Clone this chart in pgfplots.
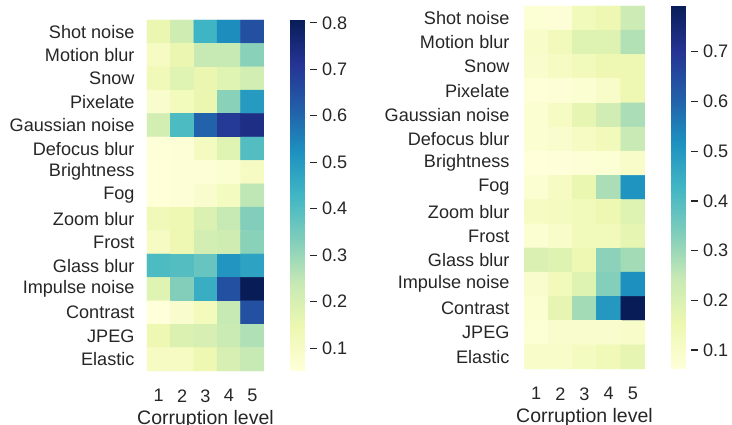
\documentclass[border=0pt]{standalone}
\usepackage{pgfplots}
\pgfplotsset{compat=1.18}
\usepackage{fontspec}
\setmainfont{Liberation Sans}
\definecolor{txt}{HTML}{262626}
\pgfplotsset{
  colormap={YlGnBu}{rgb255=(255,255,217) rgb255=(237,248,177) rgb255=(199,233,180) rgb255=(127,205,187) rgb255=(65,182,196) rgb255=(29,145,192) rgb255=(34,94,168) rgb255=(37,52,148) rgb255=(8,29,88)},
  heat/.style={
    scale only axis,
    enlargelimits=false,
    xmin=0.5, xmax=5.5, ymin=0.5, ymax=15.5,
    y dir=reverse,
    axis line style={draw=none},
    major tick length=0pt,
    xtick={1,2,3,4,5},
    ytick={1,...,15},
    yticklabels={Shot noise,Motion blur,Snow,Pixelate,Gaussian noise,Defocus blur,Brightness,Fog,Zoom blur,Frost,Glass blur,Impulse noise,Contrast,JPEG,Elastic},
    /pgf/number format/assume math mode=true,
    tick label style={font=\fontsize{18.1}{21}\selectfont, text=txt},
    xticklabel style={yshift=-15pt},
    xlabel={Corruption level},
    xlabel style={font=\fontsize{19.5}{23}\selectfont, text=txt, at={(axis description cs:0.5,0)}, anchor=base, yshift=-53pt},
    colormap name=YlGnBu,
    colorbar,
  },
  cbar/.style={
    colorbar style={
      at={(parent axis.north east)}, anchor=north west, xshift=#1,
      scale only axis, width=19pt,
      axis line style={draw=none},
      ytick pos=right, yticklabel pos=right,
      tick align=outside,
      major tick length=7pt,
      tick style={color=txt, line width=1.2pt},
      /pgf/number format/assume math mode=true,
      yticklabel style={font=\fontsize{18.1}{21}\selectfont, text=txt, xshift=2pt, /pgf/number format/.cd, fixed, fixed zerofill, precision=1},
    }
  }
}
\pgfplotstableread{
x y c
1 1 0.15
2 1 0.22
3 1 0.435
4 1 0.53
5 1 0.65
1 2 0.10
2 2 0.15
3 2 0.24
4 2 0.24
5 2 0.32
1 3 0.13
2 3 0.18
3 3 0.15
4 3 0.18
5 3 0.21
1 4 0.08
2 4 0.12
3 4 0.15
4 4 0.32
5 4 0.50
1 5 0.21
2 5 0.41
3 5 0.61
4 5 0.70
5 5 0.736
1 6 0.055
2 6 0.06
3 6 0.11
4 6 0.18
5 6 0.40
1 7 0.053
2 7 0.058
3 7 0.06
4 7 0.07
5 7 0.10
1 8 0.053
2 8 0.06
3 8 0.08
4 8 0.11
5 8 0.25
1 9 0.13
2 9 0.14
3 9 0.19
4 9 0.24
5 9 0.33
1 10 0.10
2 10 0.14
3 10 0.21
4 10 0.22
5 10 0.32
1 11 0.41
2 11 0.40
3 11 0.37
4 11 0.51
5 11 0.48
1 12 0.18
2 12 0.33
3 12 0.45
4 12 0.65
5 12 0.806
1 13 0.051
2 13 0.08
3 13 0.12
4 13 0.24
5 13 0.65
1 14 0.14
2 14 0.19
3 14 0.20
4 14 0.23
5 14 0.27
1 15 0.10
2 15 0.10
3 15 0.14
4 15 0.20
5 15 0.24
}\lefttab
\pgfplotstableread{
x y c
1 1 0.075
2 1 0.07
3 1 0.13
4 1 0.15
5 1 0.23
1 2 0.10
2 2 0.13
3 2 0.19
4 2 0.19
5 2 0.27
1 3 0.09
2 3 0.11
3 3 0.13
4 3 0.15
5 3 0.15
1 4 0.068
2 4 0.07
3 4 0.08
4 4 0.10
5 4 0.15
1 5 0.08
2 5 0.11
3 5 0.17
4 5 0.22
5 5 0.28
1 6 0.08
2 6 0.09
3 6 0.11
4 6 0.13
5 6 0.24
1 7 0.062
2 7 0.065
3 7 0.07
4 7 0.075
5 7 0.10
1 8 0.08
2 8 0.11
3 8 0.16
4 8 0.28
5 8 0.51
1 9 0.11
2 9 0.12
3 9 0.13
4 9 0.15
5 9 0.19
1 10 0.08
2 10 0.10
3 10 0.13
4 10 0.13
5 10 0.17
1 11 0.20
2 11 0.19
3 11 0.15
4 11 0.32
5 11 0.29
1 12 0.09
2 12 0.13
3 12 0.19
4 12 0.33
5 12 0.52
1 13 0.08
2 13 0.17
3 13 0.29
4 13 0.50
5 13 0.792
1 14 0.075
2 14 0.09
3 14 0.09
4 14 0.09
5 14 0.10
1 15 0.10
2 15 0.10
3 15 0.12
4 15 0.14
5 15 0.17
}\righttab
\begin{document}
\begin{tikzpicture}
\path[use as bounding box] (0,0) rectangle (732pt,425pt);
\begin{axis}[heat, at={(147pt,54pt)}, anchor=south west, width=117pt, height=351pt,
  point meta min=0.051, point meta max=0.806,
  yticklabel style={xshift=-9pt},
  cbar=18pt,
  colorbar style={height=351pt, ytick={0.1,0.2,...,0.8}}]
\addplot[matrix plot*, mesh/cols=5, point meta=explicit] table[x=x, y=y, meta=c] {\lefttab};
\end{axis}
\begin{axis}[heat, at={(524pt,56pt)}, anchor=south west, width=121pt, height=363pt,
  point meta min=0.062, point meta max=0.792,
  yticklabel style={xshift=-11pt},
  cbar=18pt,
  colorbar style={height=363pt, ytick={0.1,0.2,...,0.7}}]
\addplot[matrix plot*, mesh/cols=5, point meta=explicit] table[x=x, y=y, meta=c] {\righttab};
\end{axis}
\end{tikzpicture}
\end{document}
